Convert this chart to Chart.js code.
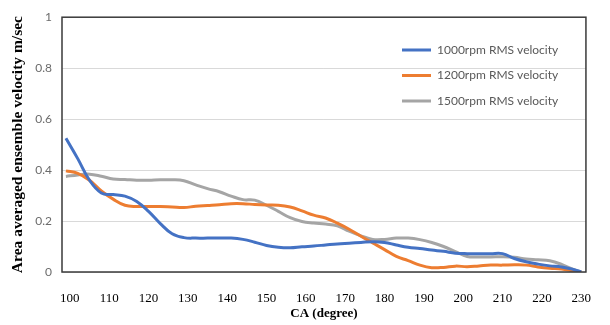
<!DOCTYPE html>
<html>
<head>
<meta charset="utf-8">
<script src="https://cdn.jsdelivr.net/npm/chart.js@4"></script>
<style>
html,body{margin:0;padding:0;background:#fff;}
#wrap{position:relative;width:610px;height:325px;}
</style>
</head>
<body>
<div id="wrap"><canvas id="c" width="610" height="325"></canvas></div>
<script>
const angles = [99,102,105,108,111,114,117,120,123,126,129,132,135,138,141,144,147,150,153,156,159,162,165,168,171,174,177,180,183,186,189,192,195,198,201,204,207,210,213,216,219,222,225,228,230];
const rpm1000 = [0.525,0.445,0.36,0.31,0.304,0.298,0.277,0.238,0.19,0.15,0.135,0.133,0.133,0.133,0.133,0.128,0.117,0.104,0.097,0.095,0.099,0.102,0.106,0.110,0.113,0.116,0.119,0.116,0.106,0.097,0.092,0.086,0.081,0.074,0.072,0.072,0.072,0.072,0.053,0.040,0.031,0.024,0.020,0.010,0.0];
const rpm1200 = [0.397,0.387,0.36,0.318,0.286,0.262,0.257,0.257,0.257,0.255,0.253,0.258,0.261,0.264,0.268,0.268,0.265,0.263,0.262,0.255,0.240,0.223,0.212,0.192,0.168,0.140,0.114,0.088,0.061,0.045,0.027,0.017,0.018,0.023,0.021,0.024,0.027,0.027,0.028,0.027,0.020,0.015,0.012,0.004,0.0];
const rpm1500 = [0.375,0.381,0.384,0.376,0.365,0.363,0.360,0.360,0.362,0.362,0.358,0.342,0.327,0.315,0.298,0.284,0.282,0.262,0.238,0.213,0.198,0.192,0.188,0.181,0.160,0.142,0.128,0.128,0.133,0.133,0.127,0.116,0.100,0.080,0.061,0.059,0.059,0.060,0.058,0.051,0.048,0.044,0.030,0.010,0.0];
const seriesLabels = ['1000rpm RMS velocity','1200rpm RMS velocity','1500rpm RMS velocity'];
const xTicks = [100,110,120,130,140,150,160,170,180,190,200,210,220,230];
const yTicks = [0,0.2,0.4,0.6,0.8,1];
const xTitle = 'CA (degree)';
const yTitle = 'Area averaged ensemble velocity m/sec';

const colors = ['#4472C4','#ED7D31','#A5A5A5'];
const series = [rpm1000, rpm1200, rpm1500];

const frame = {
  id:'frame',
  afterDatasetsDraw(chart){
    const a = chart.chartArea, ctx = chart.ctx;
    ctx.save();
    ctx.strokeStyle = '#3a3a3a';
    ctx.lineWidth = 1.5;
    ctx.strokeRect(a.left, a.top, a.right - a.left, a.bottom - a.top);
    ctx.restore();
  }
};
const legendPos = {
  id:'legendPos',
  afterLayout(chart){
    const lg = chart.legend;
    if(!lg) return;
    const w = lg.width, h = lg.height;
    lg.left = 388.5; lg.top = 30.5;
    lg.right = lg.left + w; lg.bottom = lg.top + h;
  }
};

new Chart(document.getElementById('c'), {
  type:'line',
  data:{
    datasets: series.map((s,i)=>({
      label: seriesLabels[i],
      data: angles.map((a,j)=>({x:a, y:s[j]})),
      borderColor: colors[i],
      backgroundColor: colors[i],
      borderWidth: 3,
      pointRadius: 0,
      tension: 0.4,
      fill:false
    }))
  },
  options:{
    responsive:false,
    animation:false,
    layout:{padding:{top:10,right:4,left:0,bottom:0}},
    plugins:{
      legend:{
        position:'chartArea',
        align:'start',
        labels:{
          usePointStyle:true,
          pointStyle:'line',
          pointStyleWidth:29,
          boxHeight:3,
          padding:13.5,
          color:'#595959',
          font:{family:'Lato', size:12}
        }
      },
      tooltip:{enabled:false}
    },
    scales:{
      x:{
        type:'linear',
        min:98, max:231.2,
        afterBuildTicks(scale){ scale.ticks = xTicks.map(v=>({value:v})); },
        afterFit(scale){ scale.height = 53; },
        grid:{display:false, drawTicks:false},
        border:{display:false},
        ticks:{padding:19, color:'#000', font:{family:'Liberation Serif', size:13}, maxRotation:0, autoSkip:false},
        title:{display:true, text:xTitle, color:'#000', padding:{top:0,bottom:4}, font:{family:'Liberation Serif', size:13, weight:'bold'}}
      },
      y:{
        min:0, max:1,
        afterBuildTicks(scale){ scale.ticks = yTicks.map(v=>({value:v})); },
        afterFit(scale){ scale.width = 62; },
        grid:{color:'#d9d9d9', lineWidth:1, drawTicks:false},
        border:{display:false},
        ticks:{padding:10, color:'#6b6b6b', font:{family:'Lato', size:12}, callback:(v)=>String(Math.round(v*10)/10)},
        title:{display:true, text:yTitle, color:'#000', padding:{top:8.5,bottom:0}, font:{family:'Liberation Serif', size:15.5, weight:'bold'}}
      }
    }
  },
  plugins:[frame, legendPos]
});
</script>
</body>
</html>
